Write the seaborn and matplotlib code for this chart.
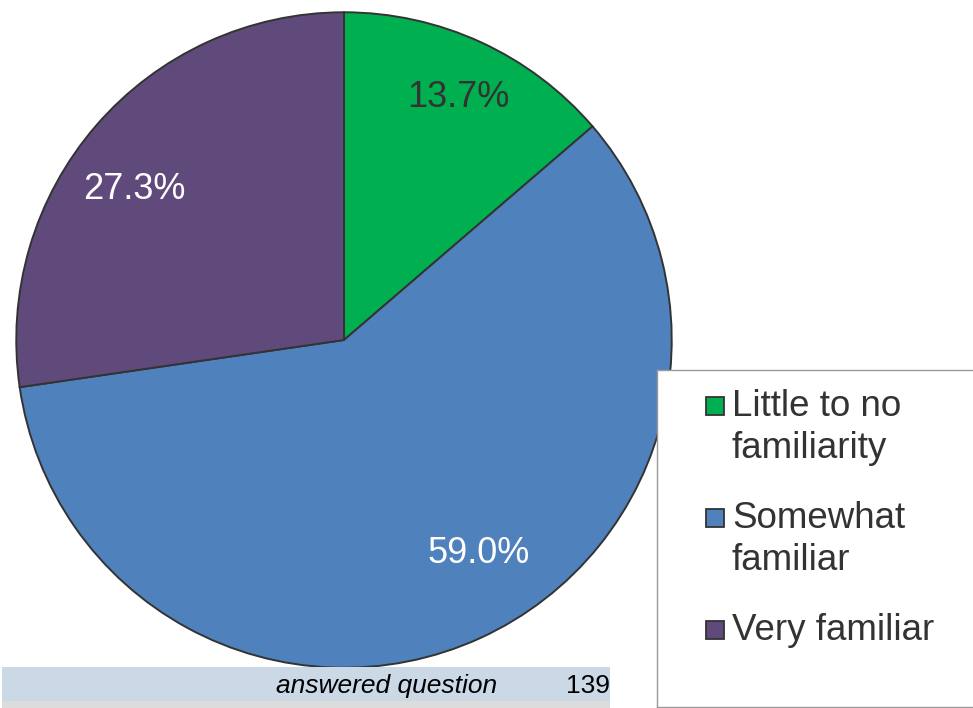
import matplotlib
matplotlib.use("Agg")
import matplotlib.pyplot as plt
import seaborn as sns
from matplotlib.patches import Rectangle

# data
categorias = ["Little to no\nfamiliarity", "Somewhat\nfamiliar", "Very familiar"]
percentuais = [13.7, 59.0, 27.3]
cores = ["#00B050", "#4F81BD", "#604A7B"]
cores_rotulo = ["#333333", "white", "white"]
rotulo_resposta = "answered question"
total_respostas = 139

sns.set_theme(style="white")
plt.rcParams['font.family'] = ['Liberation Sans', 'DejaVu Sans']

W, H = 973, 708
fig = plt.figure(figsize=(W / 100, H / 100), dpi=100)

def px_axes(x0, y0, x1, y1):
    # caixa em pixels (origem no topo esquerdo)
    return fig.add_axes([x0 / W, 1 - y1 / H, (x1 - x0) / W, (y1 - y0) / H])

# pizza
cx, cy, r = 344, 340, 331
ax = px_axes(cx - r, cy - r, cx + r, cy + r)
wedges, _, autotexts = ax.pie(
    percentuais, colors=cores, startangle=90, counterclock=False,
    autopct='%1.1f%%', pctdistance=0.8, radius=1,
    wedgeprops=dict(edgecolor="#333333", linewidth=1.4),
    textprops=dict(fontsize=26))
ax.set_xlim(-1.01, 1.01)
ax.set_ylim(-1.01, 1.01)
ax.set_aspect('equal')
ax.axis('off')

# posicao dos rotulos como no original
pos_rotulos = [(0.35, 0.74), (0.41, -0.65), (-0.64, 0.46)]
for t, c, p in zip(autotexts, cores_rotulo, pos_rotulos):
    t.set_color(c)
    t.set_position(p)

# legenda desenhada numa caixa propria
lg = px_axes(657, 370, 990, 707)
lg.set_xlim(657, 990)
lg.set_ylim(707, 370)
lg.set_xticks([])
lg.set_yticks([])
for s in lg.spines.values():
    s.set_color("#999999")
    s.set_linewidth(1)
y_base = 416
for cat, cor in zip(categorias, cores):
    lg.add_patch(Rectangle((706, y_base - 19), 18, 18, facecolor=cor,
                           edgecolor="#333333", linewidth=1.3))
    for i, linha in enumerate(cat.split("\n")):
        lg.text(732, y_base + i * 42, linha, fontsize=26.5, color="#333333",
                va='baseline', ha='left')
        ultimo = y_base + i * 42
    y_base = ultimo + 70

# faixa "answered question"
fx = px_axes(2, 667, 610, 708)
fx.set_xlim(0, 1)
fx.set_ylim(708, 667)
fx.axis('off')
fx.add_patch(Rectangle((0, 667), 1, 34, facecolor="#CBD8E6", edgecolor='none'))
fx.add_patch(Rectangle((0, 701), 1, 7, facecolor="#DCDCDC", edgecolor='none'))
fx.text(495 / 608, 686, rotulo_resposta, fontsize=19, style='italic',
        color='black', ha='right', va='center')
fx.text(1.0, 686, str(total_respostas), fontsize=19, color='black',
        ha='right', va='center')

fig.savefig("out.png", dpi=100)
